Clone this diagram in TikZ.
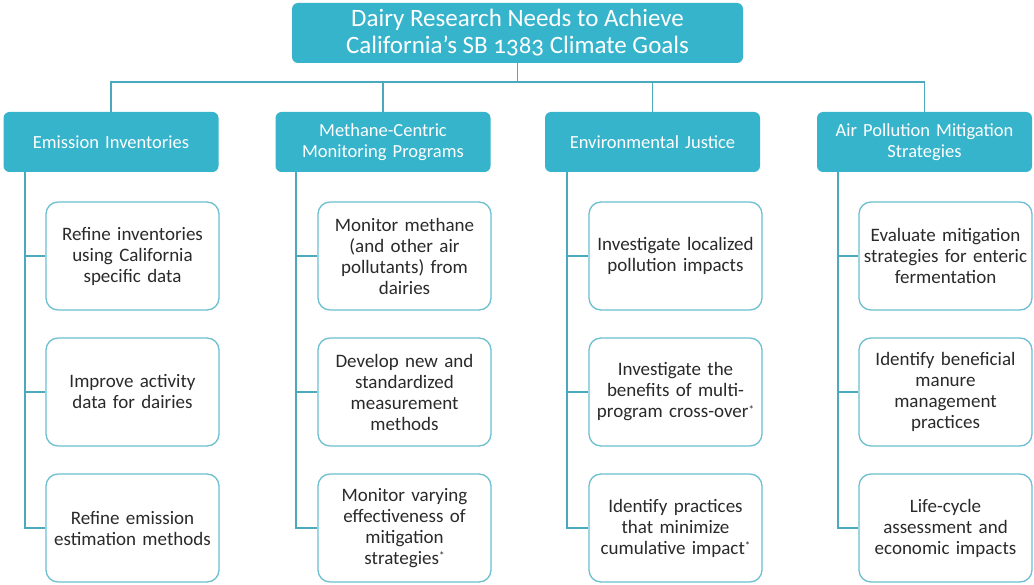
\documentclass[tikz,border=0pt]{standalone}
\usepackage{fontspec}
\setmainfont{Carlito}
\newfontfamily\oldnum[Numbers=OldStyle]{Carlito}
\definecolor{teal1}{HTML}{35B4CC}
\definecolor{line1}{HTML}{4AA9BC}
\definecolor{bord}{HTML}{6CC0D0}
\definecolor{txt}{HTML}{2A2A2A}
\newcommand{\myast}{\raisebox{0.25em}{\fontsize{11}{11}\selectfont *}}
\begin{document}
\begin{tikzpicture}[x=1pt,y=-1pt,
  topbox/.style={fill=teal1, draw=none, rounded corners=6pt, text=white, align=center, font=\fontsize{25}{27}\selectfont, minimum width=451pt, minimum height=60pt, inner sep=0pt},
  headbox/.style={fill=teal1, draw=none, rounded corners=6pt, text=white, align=center, font=\fontsize{18.5}{21}\selectfont, minimum width=215pt, minimum height=60pt, inner sep=0pt, text width=205pt},
  childbox/.style={fill=white, draw=bord, line width=1.3pt, rounded corners=12pt, text=txt, align=center, font=\fontsize{19}{21}\selectfont, minimum width=173pt, minimum height=108pt, inner sep=0pt, text width=168pt},
  conn/.style={draw=line1, line width=1.6pt}]
\useasboundingbox (0,0) rectangle (1034,585);
\fill[white] (0,0) rectangle (1034,585);
\node[topbox] (top) at (517.5,33) {Dairy Research Needs to Achieve\\California’s SB {\oldnum 1383} Climate Goals};
\coordinate (hub) at (517.5,82);

\node[headbox] (h1) at (111,142) {Emission Inventories};
\node[headbox] (h2) at (383,142) {Methane-Centric\\Monitoring Programs};
\node[headbox] (h3) at (652.5,142) {Environmental Justice};
\node[headbox] (h4) at (924.5,142) {Air Pollution Mitigation\\Strategies};

\node[childbox] (a1) at (132.5,256) {Refine inventories\\using California\\specific data};
\node[childbox] (a2) at (132.5,392) {Improve activity\\data for dairies};
\node[childbox] (a3) at (132.5,528) {Refine emission\\estimation methods};

\node[childbox] (b1) at (404.5,256) {Monitor methane\\(and other air\\pollutants) from\\dairies};
\node[childbox] (b2) at (404.5,392) {Develop new and\\standardized\\measurement\\methods};
\node[childbox] (b3) at (404.5,528) {Monitor varying\\effectiveness of\\mitigation\\strategies\myast};

\node[childbox] (c1) at (675.5,256) {Investigate localized\\pollution impacts};
\node[childbox] (c2) at (675.5,392) {Investigate the\\benefits of multi-\\program cross-over\myast};
\node[childbox] (c3) at (675.5,528) {Identify practices\\that minimize\\cumulative impact\myast};

\node[childbox] (d1) at (945.5,256) {Evaluate mitigation\\strategies for enteric\\fermentation};
\node[childbox] (d2) at (945.5,392) {Identify beneficial\\manure\\management\\practices};
\node[childbox] (d3) at (945.5,528) {Life-cycle\\assessment and\\economic impacts};

% top connectors
\draw[conn] (top.south) -- (hub);
\draw[conn] (h1.north) |- (hub) -| (h4.north);
\draw[conn] (h2.north) -- (h2.north |- hub);
\draw[conn] (h3.north) -- (h3.north |- hub);

% child connectors
\foreach \h/\c/\x in {h1/a/25,h2/b/296,h3/c/567,h4/d/838}{
  \draw[conn] (\x,172) |- (\c3.west);
  \draw[conn] (\x,256) -- (\c1.west);
  \draw[conn] (\x,392) -- (\c2.west);
}
\end{tikzpicture}
\end{document}
